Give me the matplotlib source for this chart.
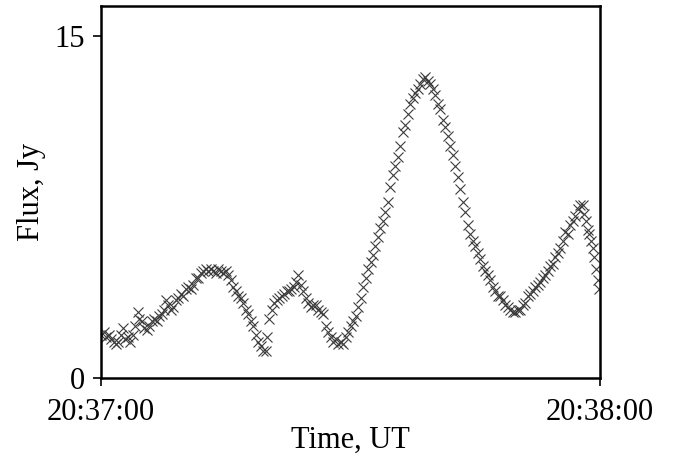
import numpy as np
from matplotlib import pyplot as plt

# time in seconds after 20:37:00, flux in Jy
time_s = [0.0, 0.3, 0.6, 0.9, 1.2, 1.5, 1.8, 2.1, 2.4, 2.6, 2.9, 3.2, 3.5, 3.8,
          4.1, 4.4, 4.6, 4.9, 5.2, 5.5, 5.8,
          6.1, 6.4, 6.7, 7.0, 7.3, 7.6, 7.8, 8.1, 8.4, 8.7, 9.0,
          9.3, 9.6, 9.9, 10.2, 10.5, 10.8, 11.1, 11.4, 11.7, 12.0,
          12.3, 12.6, 12.9, 13.2, 13.5, 13.8, 14.1, 14.4, 14.7, 15.0, 15.3,
          15.6, 15.9, 16.2, 16.5, 16.8, 17.1, 17.4, 17.7, 18.0, 18.3, 18.6, 18.9, 19.2, 19.5, 19.8,
          20.0, 20.2, 20.5, 20.8, 21.1, 21.4, 21.7, 22.0, 22.3, 22.6, 22.9, 23.2, 23.5, 23.7, 24.0,
          24.3, 24.6, 24.9, 25.2, 25.5, 25.8, 26.1, 26.4, 26.7, 27.0,
          27.3, 27.6, 27.9, 28.2, 28.5, 28.8, 29.1, 29.4, 29.7, 30.0,
          30.3, 30.6, 30.9, 31.2, 31.5, 31.8, 32.1, 32.4, 32.7, 33.0, 33.3, 33.6, 33.9,
          34.2, 34.5, 34.8, 35.1, 35.4, 35.7, 36.0,
          36.3, 36.6, 36.9, 37.2, 37.5, 37.8, 38.1, 38.4, 38.7, 39.0, 39.3,
          39.6, 39.9, 40.2, 40.5, 40.8, 41.1, 41.4, 41.7, 42.0, 42.3, 42.6, 42.9,
          43.2, 43.5, 43.8, 44.1, 44.4, 44.7, 45.0,
          45.3, 45.6, 45.9, 46.2, 46.5, 46.8, 47.1, 47.4, 47.7, 48.0, 48.3, 48.6,
          48.9, 49.2, 49.5, 49.8,
          50.1, 50.4, 50.7, 51.0, 51.3, 51.6, 51.9, 52.2, 52.5, 52.8, 53.1, 53.4,
          53.7, 54.0, 54.3, 54.6, 54.9, 55.2, 55.5, 55.8, 56.1, 56.4, 56.7, 57.0,
          57.3, 57.6, 57.9,
          58.1, 58.3, 58.5, 58.7, 58.9, 59.1, 59.3, 59.5, 59.7, 59.9]

flux_jy = [1.9, 2.0, 1.8, 1.9, 1.7, 1.6, 1.5, 1.6, 1.9, 2.2, 1.7, 1.8, 1.6, 1.9,
           2.3, 2.9, 2.6, 2.5, 2.2, 2.1, 2.3,
           2.5, 2.6, 2.5, 2.7, 2.8, 3.0, 3.4, 3.2, 3.0, 3.1, 3.4,
           3.5, 3.7, 3.6, 3.9, 4.0, 3.9, 4.1, 4.4, 4.4, 4.6,
           4.7, 4.8, 4.7, 4.8, 4.7, 4.6, 4.8, 4.7, 4.6, 4.7, 4.5,
           4.3, 4.0, 3.8, 3.6, 3.5, 3.3, 3.0, 2.8, 2.5, 2.3, 1.9, 1.6, 1.4, 1.2, 1.2,
           1.8, 2.6, 3.0, 3.3, 3.4, 3.5, 3.6, 3.7, 3.8, 3.8, 3.9, 4.0, 4.2, 4.5, 4.1,
           3.8, 3.5, 3.3, 3.1, 3.2, 3.2, 3.0, 2.9, 2.8, 2.3,
           2.0, 1.8, 1.6, 1.7, 1.5, 1.6, 1.5, 1.8, 2.0, 2.3,
           2.5, 2.7, 3.1, 3.5, 4.0, 4.4, 4.8, 5.1, 5.4, 5.8, 6.2, 6.6, 6.9,
           7.3, 7.7, 8.4, 8.9, 9.3, 9.7, 10.2,
           10.8, 11.1, 11.6, 12.0, 12.3, 12.5, 12.7, 12.9, 13.1, 13.2, 13.05,
           12.9, 12.7, 12.4, 12.0, 11.8, 11.3, 11.0, 10.6, 10.2, 9.8, 9.3, 8.8,
           8.3, 7.7, 7.3, 6.7, 6.3, 6.0, 5.8,
           5.5, 5.2, 4.9, 4.7, 4.5, 4.3, 4.0, 3.8, 3.6, 3.6, 3.4, 3.2,
           3.1, 3.0, 2.9, 2.9,
           3.0, 3.0, 3.2, 3.3, 3.6, 3.7, 3.8, 4.0, 4.1, 4.2, 4.4, 4.5,
           4.7, 4.9, 5.0, 5.3, 5.5, 5.7, 6.0, 6.4, 6.3, 6.7, 6.9, 7.1,
           7.4, 7.6, 7.6,
           7.2, 6.9, 6.5, 6.3, 6.0, 5.7, 5.3, 4.8, 4.3, 3.9]

x_ticks = [0, 60]
x_tick_labels = ["20:37:00", "20:38:00"]
y_ticks = [0, 15]

plt.rcParams['font.family'] = ['Liberation Serif', 'DejaVu Serif']

fig = plt.figure(figsize = (6.74, 4.57), dpi = 100)
ax = fig.add_axes([0.1499, 0.1729, 0.7404, 0.8129])

ax.plot(time_s, flux_jy, linestyle = "none", marker = "x", markersize = 6.5,
        markeredgewidth = 0.8, color = "#3c3c3c")

ax.set_xlim(0, 60)
ax.set_ylim(0, 16.3)
ax.set_xticks(x_ticks)
ax.set_xticklabels(x_tick_labels)
ax.set_yticks(y_ticks)

for side in ["left", "bottom", "right", "top"]:
    ax.spines[side].set_linewidth(1.8)
ax.tick_params(direction = "out", length = 5.5, width = 1.2, labelsize = 22)
ax.tick_params(axis = "x", pad = 9)
ax.tick_params(axis = "y", pad = 6)

ax.set_xlabel("Time, UT", fontsize = 22, labelpad = -1)
ax.set_ylabel("Flux, Jy", fontsize = 22, labelpad = 6)

plt.savefig("out.png", dpi = 100)
